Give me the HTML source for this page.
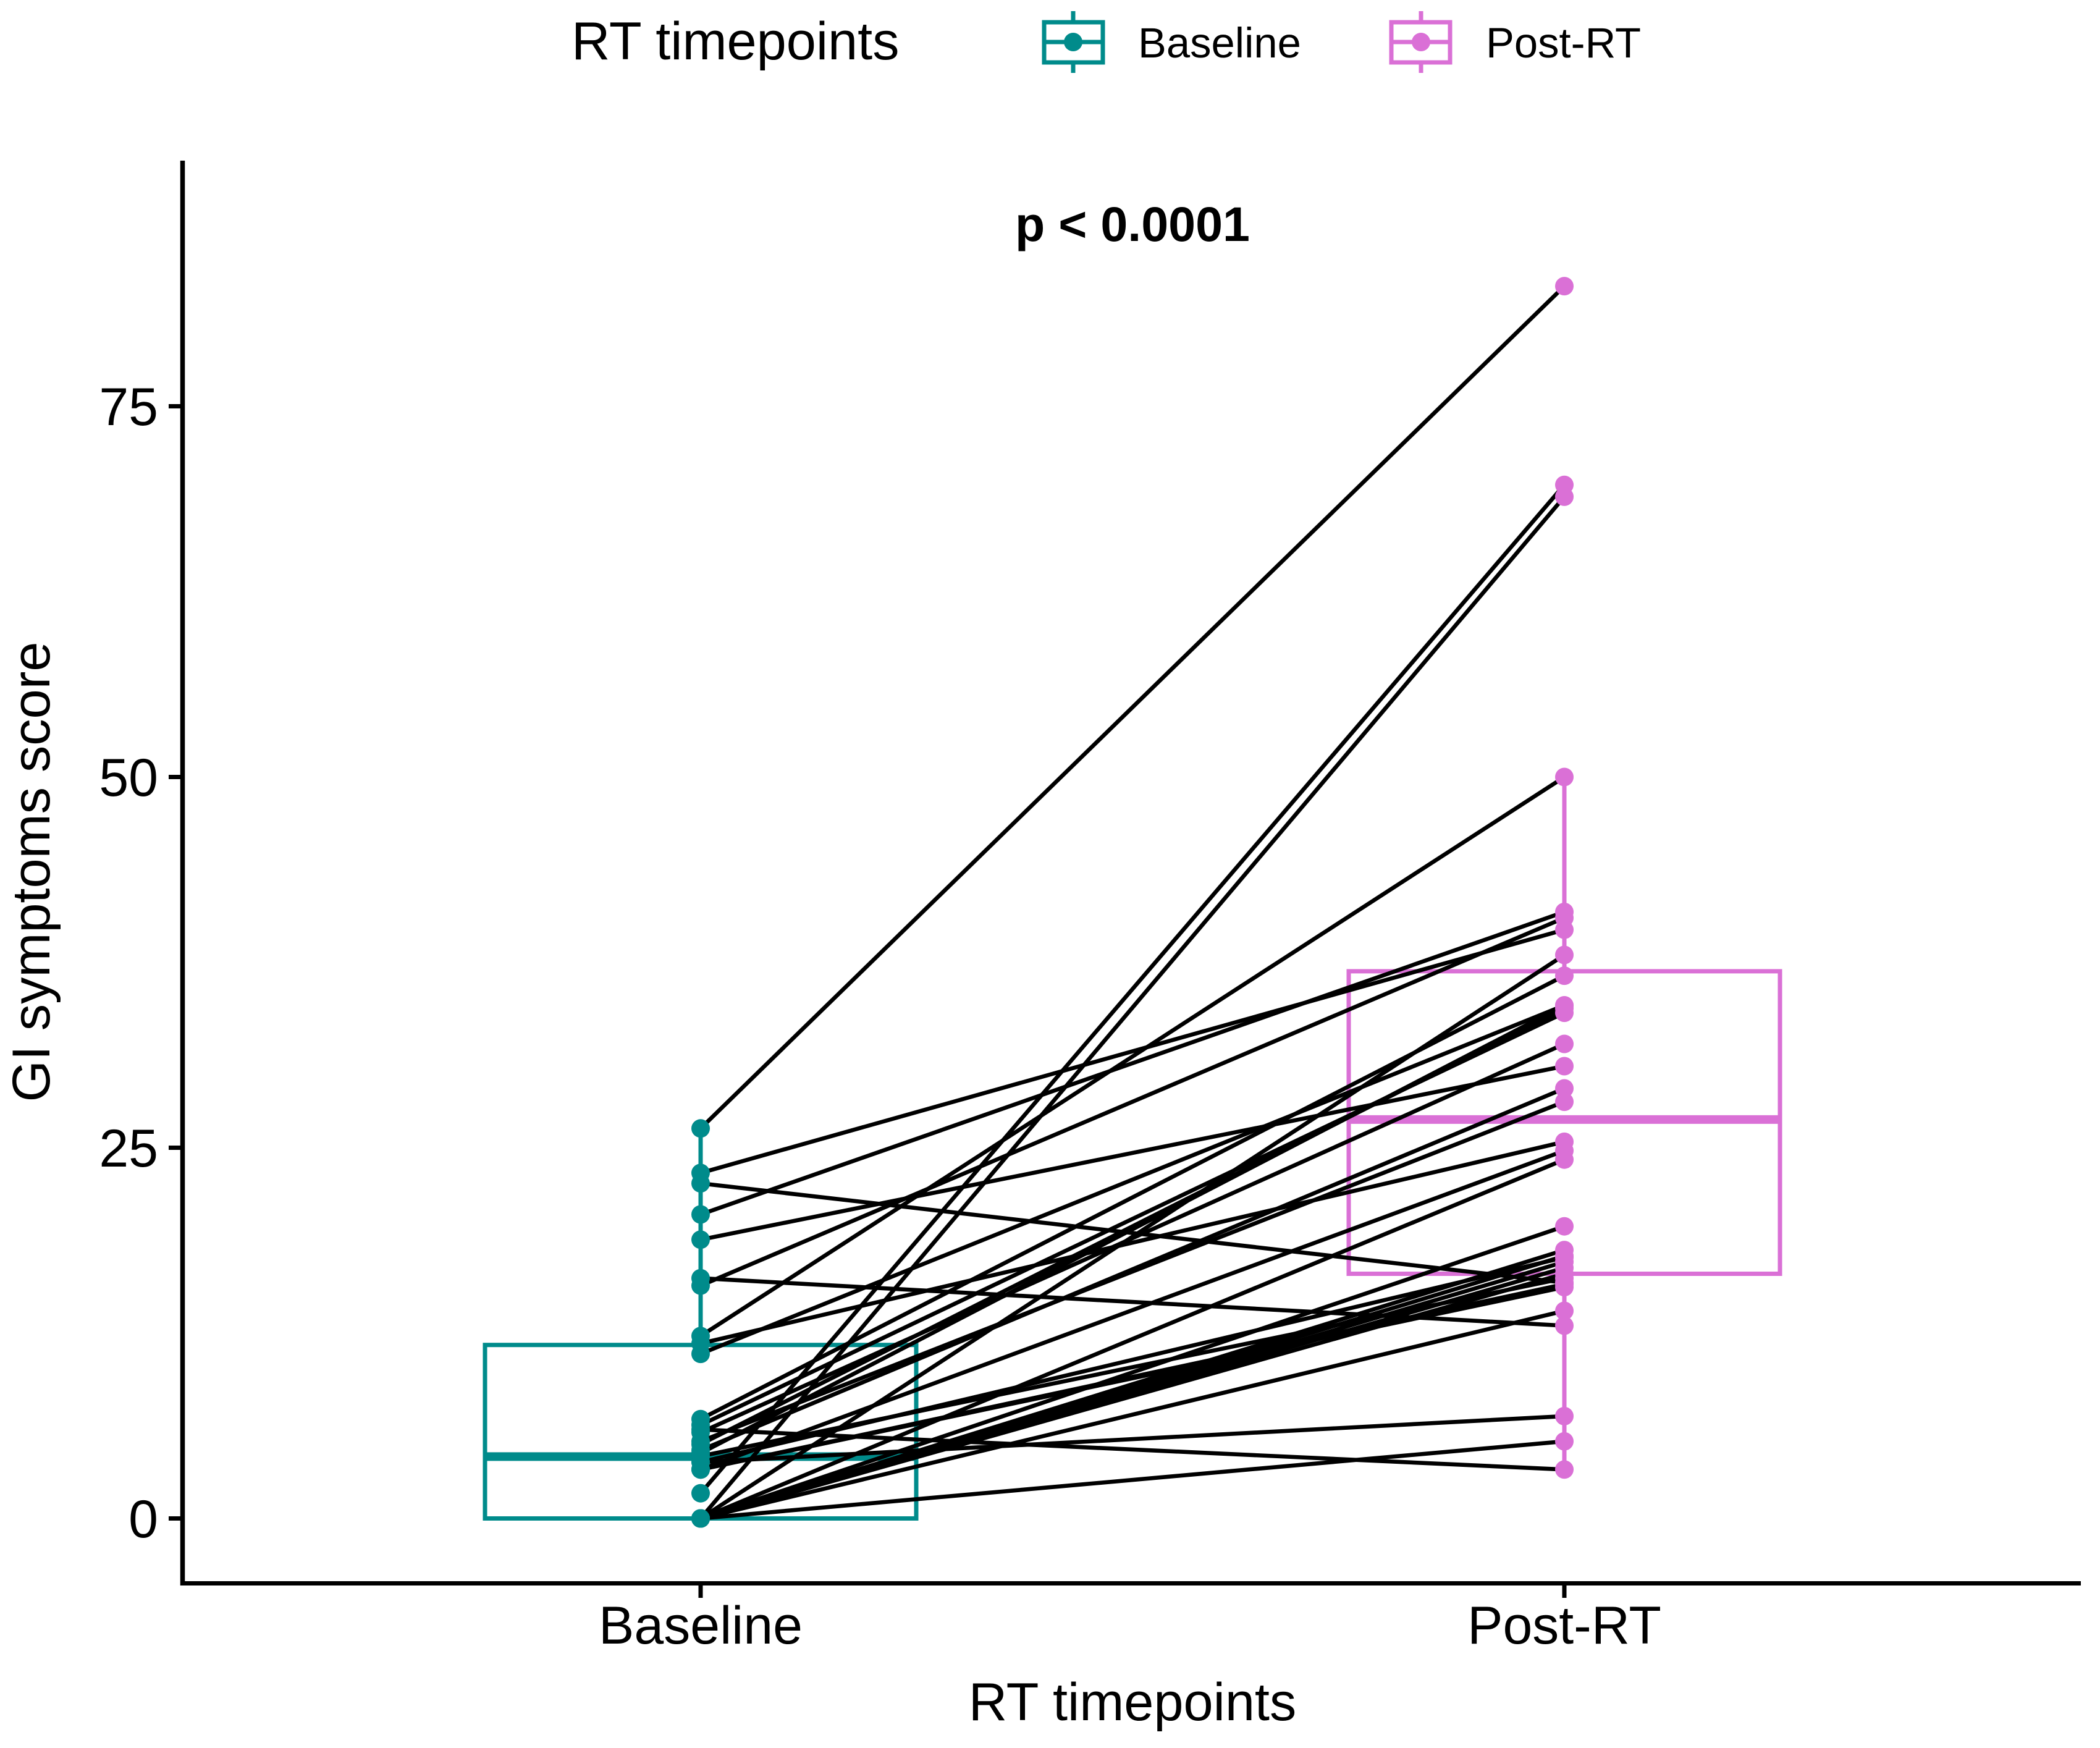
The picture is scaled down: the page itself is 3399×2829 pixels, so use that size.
<!DOCTYPE html>
<html lang="en">
<head>
<meta charset="utf-8">
<title>GI symptoms score by RT timepoint</title>
<style>
html,body{margin:0;padding:0;background:#fff;}
svg{display:block;}
text{font-family:"Liberation Sans",sans-serif;fill:#000;}
</style>
</head>
<body>
<svg id="chart" xmlns="http://www.w3.org/2000/svg" width="3399" height="2829" viewBox="0 0 3399 2829">
  <rect width="3399" height="2829" fill="#fff"/>

  <g>
    <text x="925" y="96" font-size="86.5">RT timepoints</text>
    <g stroke="#008B8B" stroke-width="7" fill="none">
      <line x1="1737" y1="18" x2="1737" y2="36"/>
      <line x1="1737" y1="100" x2="1737" y2="118"/>
      <rect x="1690" y="36" width="95" height="65"/>
      <line x1="1690" y1="68" x2="1785" y2="68"/>
      <circle cx="1737" cy="68" r="15" fill="#008B8B" stroke="none"/>
    </g>
    <text x="1842" y="93" font-size="68.8">Baseline</text>
    <g stroke="#DA70D6" stroke-width="7" fill="none">
      <line x1="2300" y1="18" x2="2300" y2="36"/>
      <line x1="2300" y1="100" x2="2300" y2="118"/>
      <rect x="2252" y="36" width="95" height="65"/>
      <line x1="2252" y1="68" x2="2347" y2="68"/>
      <circle cx="2300" cy="68" r="15" fill="#DA70D6" stroke="none"/>
    </g>
    <text x="2405" y="93" font-size="68.8">Post-RT</text>
  </g>

  <g id="boxes"></g>
  <g id="lines"></g>
  <g id="points"></g>

  <g id="axes">
    <line x1="295.5" y1="260" x2="295.5" y2="2566" stroke="#000" stroke-width="7.5"/>
    <line x1="292" y1="2562.5" x2="3368" y2="2562.5" stroke="#000" stroke-width="7"/>
  </g>

  <text x="1833" y="390" font-size="79" font-weight="700" text-anchor="middle">p &lt; 0.0001</text>
  <text x="1833" y="2784" font-size="86.5" text-anchor="middle">RT timepoints</text>
  <text transform="translate(80 1411) rotate(-90)" font-size="86.5" text-anchor="middle">GI symptoms score</text>
</svg>

<script>
const categories = ['Baseline', 'Post-RT'];
const yTicks = [0, 25, 50, 75];
const baselineScores = [26.3, 1.7, 0, 12.3, 20.5, 15.7, 23.3, 18.8, 11.1, 11.8, 22.6, 16.2, 0, 6.7, 6.3, 5.8, 4.6, 5.2, 3.3, 0, 0, 0, 0, 0, 4.2, 3.3, 0, 3.8, 0, 6.0, 5.0, 4.4, 0, 3.3, 3.8, 0];
const postScores = [83.1, 69.7, 68.9, 50, 40.9, 40.5, 39.7, 30.5, 34.6, 25.4, 15.9, 13, 38, 36.6, 34.1, 32, 29, 28.1, 24.8, 24.2, 19.7, 18.1, 17.3, 16.5, 16.2, 15.6, 14, 6.9, 5.2, 3.3, 34.4, 34.6, 16.9, 15.8, 17.6, 17.7];
const boxQ1 = [0, 16.5];
const boxMedian = [4.17, 26.9];
const boxQ3 = [11.7, 36.9];
const whiskerLow = [0, 3.3];
const whiskerHigh = [26.3, 50];

const NS = 'http://www.w3.org/2000/svg';
const TEAL = '#008B8B';
const ORCHID = '#DA70D6';
const groupColors = [TEAL, ORCHID];

function xScale(i) { return 1134 + i * 1398; }
function yScale(v) { return 2457.5 - v * 24.0; }
const BOX_HALF = 349;

function make(tag, attrs, parent) {
  const el = document.createElementNS(NS, tag);
  for (const k in attrs) el.setAttribute(k, attrs[k]);
  parent.appendChild(el);
  return el;
}

const boxes = document.getElementById('boxes');
const linesG = document.getElementById('lines');
const pointsG = document.getElementById('points');
const axes = document.getElementById('axes');
const svg = document.getElementById('chart');

categories.forEach(function (cat, i) {
  const cx = xScale(i);
  const color = groupColors[i];
  const g = make('g', { fill: 'none', stroke: color, 'stroke-width': 7 }, boxes);
  
  

  const whisker = make('line', { x1: cx, x2: cx, y1: yScale(whiskerLow[i]), y2: yScale(boxQ1[i]) }, g);
  
  

  const whisker2 = make('line', { x1: cx, x2: cx, y1: yScale(boxQ3[i]), y2: yScale(whiskerHigh[i]) }, g);
  
  

  const rect = make('rect', { x: cx - BOX_HALF, width: BOX_HALF * 2, y: yScale(boxQ3[i]), height: yScale(boxQ1[i]) - yScale(boxQ3[i]) }, g);
  
  

  const med = make('line', { x1: cx - BOX_HALF, x2: cx + BOX_HALF, y1: yScale(boxMedian[i]), y2: yScale(boxMedian[i]), 'stroke-width': 14 }, g);
  
  

  const tick = make('line', { x1: cx, x2: cx, y1: 2566, y2: 2586, stroke: '#000', 'stroke-width': 7 }, axes);
  
  

  const label = make('text', { x: cx, y: 2660, 'font-size': 86, 'text-anchor': 'middle' }, svg);
  label.textContent = cat;
  
  
});

yTicks.forEach(function (t) {
  const y = yScale(t);
  const tick = make('line', { x1: 273, x2: 295, y1: y, y2: y, stroke: '#000', 'stroke-width': 7 }, axes);
  
  

  const label = make('text', { x: 256, y: y + 30.5, 'font-size': 86, 'text-anchor': 'end' }, svg);
  label.textContent = String(t);
  
  
});

baselineScores.forEach(function (b, i) {
  const line = make('line', { x1: xScale(0), y1: yScale(b), x2: xScale(1), y2: yScale(postScores[i]), stroke: '#000', 'stroke-width': 6.6 }, linesG);
  
  
});

baselineScores.forEach(function (b) {
  const p = make('circle', { cx: xScale(0), cy: yScale(b), r: 15, fill: TEAL }, pointsG);
  
  
});

postScores.forEach(function (v) {
  const p = make('circle', { cx: xScale(1), cy: yScale(v), r: 15, fill: ORCHID }, pointsG);
  
  
});
</script>
</body>
</html>
